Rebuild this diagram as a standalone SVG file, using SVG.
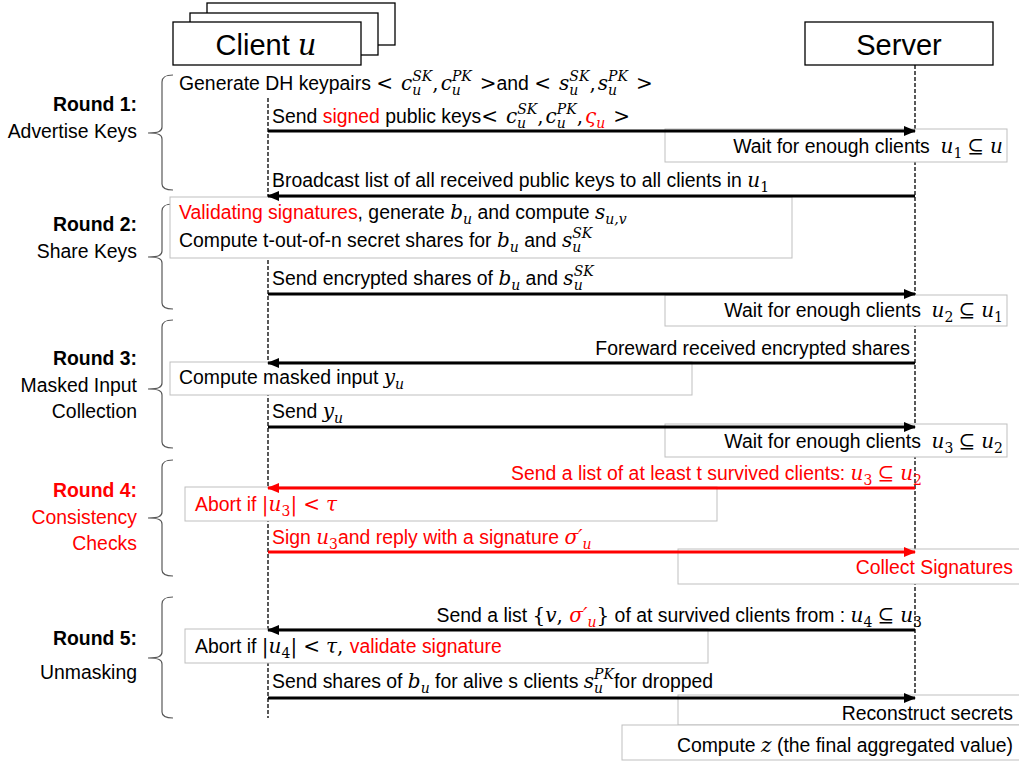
<svg xmlns="http://www.w3.org/2000/svg" width="1019" height="764" viewBox="0 0 1019 764">
<defs>
<style>
.t{font-family:"Liberation Sans",Arial,sans-serif;font-size:19.4px;fill:#000}
.r{fill:#ff0000}
.b{font-weight:bold}
.mi{font-family:"DejaVu Serif",serif;font-style:italic;font-size:20px}
.mr{font-family:"DejaVu Serif",serif;font-style:normal;font-size:20px}
.s{font-size:14px}
.note{fill:#fff;stroke:#bfbfbf;stroke-width:1}
.hdr{fill:#fff;stroke:#000;stroke-width:1.3}
.life{stroke:#000;stroke-width:1.3;stroke-dasharray:4 2;fill:none}
.brace{fill:none;stroke:#595959;stroke-width:1.2}
.arr{stroke:#000;stroke-width:3;fill:none;marker-end:url(#ah)}
.arr-r{stroke:#f00;stroke-width:3;fill:none;marker-end:url(#ahr)}
.big{font-size:29px}
</style>
<marker id="ah" markerUnits="userSpaceOnUse" markerWidth="12" markerHeight="10" refX="11" refY="5" orient="auto"><path d="M0,0 L12,5 L0,10 z" fill="#000"/></marker>
<marker id="ahr" markerUnits="userSpaceOnUse" markerWidth="12" markerHeight="10" refX="11" refY="5" orient="auto"><path d="M0,0 L12,5 L0,10 z" fill="#f00"/></marker>
</defs>
<rect width="1019" height="764" fill="#fff"/>

<g id="lifelines">
<path class="life" d="M268,98 V718"/>
<path class="life" d="M915,65 V700"/>
</g>

<g id="client">
<rect class="hdr" x="207" y="3" width="188" height="42"/>
<rect class="hdr" x="190" y="13" width="188" height="42"/>
<rect class="hdr" x="173" y="22" width="188" height="43"/>
<text class="t big" x="266" y="55" text-anchor="middle">Client <tspan class="mi" style="font-size:29px">u</tspan></text>
</g>

<g id="server">
<rect class="hdr" x="805" y="22" width="188" height="43"/>
<text class="t big" x="899" y="55" text-anchor="middle">Server</text>
</g>

<g id="braces">
<path class="brace" d="M173,75 C165,75 162,77 162,82 L162,127 C162,131 159,133 148,133 C159,133 162,135 162,139 L162,184 C162,188 165,190 173,190"/>
<path class="brace" d="M173,204 C165,204 162,206 162,211 L162,251 C162,255 159,257 148,257 C159,257 162,259 162,263 L162,303 C162,307 165,309 173,309"/>
<path class="brace" d="M173,320 C165,320 162,322 162,327 L162,383 C162,387 159,389 148,389 C159,389 162,391 162,395 L162,442 C162,446 165,448 173,448"/>
<path class="brace" d="M173,460 C165,460 162,462 162,467 L162,512 C162,516 159,518 148,518 C159,518 162,520 162,524 L162,570 C162,574 165,576 173,576"/>
<path class="brace" d="M173,597 C165,597 162,599 162,604 L162,652 C162,656 159,658 148,658 C159,658 162,660 162,664 L162,712 C162,716 165,718 173,718"/>
</g>

<g id="round1">
<text class="t b" x="137" y="111" text-anchor="end">Round 1:</text>
<text class="t" x="137" y="138" text-anchor="end">Advertise Keys</text>
</g>
<g id="round2">
<text class="t b" x="137" y="231" text-anchor="end">Round 2:</text>
<text class="t" x="137" y="258" text-anchor="end">Share Keys</text>
</g>
<g id="round3">
<text class="t b" x="137" y="365" text-anchor="end">Round 3:</text>
<text class="t" x="137" y="392" text-anchor="end">Masked Input</text>
<text class="t" x="137" y="418" text-anchor="end">Collection</text>
</g>
<g id="round4">
<text class="t b r" x="137" y="497" text-anchor="end">Round 4:</text>
<text class="t r" x="137" y="524" text-anchor="end">Consistency</text>
<text class="t r" x="137" y="550" text-anchor="end">Checks</text>
</g>
<g id="round5">
<text class="t b" x="137" y="645" text-anchor="end">Round 5:</text>
<text class="t" x="137" y="679" text-anchor="end">Unmasking</text>
</g>

<g id="gen-keys">
<text class="t" x="179" y="90">Generate DH keypairs <tspan class="mr">&lt;</tspan><tspan class="mi" dx="8">c</tspan><tspan class="mi s" dy="5">u</tspan><tspan class="mi s" dx="-9" dy="-14">SK</tspan><tspan class="mr" dy="9">,</tspan><tspan class="mi" dx="2">c</tspan><tspan class="mi s" dy="5">u</tspan><tspan class="mi s" dx="-9" dy="-14">PK</tspan><tspan class="mr" dx="8" dy="9">&gt;</tspan>and <tspan class="mr">&lt;</tspan><tspan class="mi" dx="8">s</tspan><tspan class="mi s" dy="5">u</tspan><tspan class="mi s" dx="-9" dy="-14">SK</tspan><tspan class="mr" dy="9">,</tspan><tspan class="mi" dx="2">s</tspan><tspan class="mi s" dy="5">u</tspan><tspan class="mi s" dx="-9" dy="-14">PK</tspan><tspan class="mr" dx="8" dy="9">&gt;</tspan></text>
</g>

<g id="note-validate">
<rect class="note" x="170" y="197" width="622" height="61"/>
<text class="t" x="179" y="219"><tspan class="r">Validating signatures</tspan>, generate <tspan class="mi">b</tspan><tspan class="mi s" dy="5">u</tspan><tspan dy="-5"> and compute </tspan><tspan class="mi">s</tspan><tspan class="mi s" dy="5">u,v</tspan></text>
<text class="t" x="179" y="247">Compute t-out-of-n secret shares for <tspan class="mi">b</tspan><tspan class="mi s" dy="5">u</tspan><tspan dy="-5"> and </tspan><tspan class="mi">s</tspan><tspan class="mi s" dy="5">u</tspan><tspan class="mi s" dx="-9" dy="-14">SK</tspan></text>
</g>

<g id="note-wait1">
<rect class="note" x="665" y="129" width="342" height="33"/>
<text class="t" x="1003" y="153" text-anchor="end">Wait for enough clients&#160; <tspan class="mi">u</tspan><tspan class="mr s" dy="5">1</tspan><tspan class="mr" dx="5" dy="-5">⊆</tspan><tspan class="mi" dx="6">u</tspan></text>
</g>

<g id="note-wait2">
<rect class="note" x="665" y="295" width="342" height="31"/>
<text class="t" x="1003" y="317" text-anchor="end">Wait for enough clients&#160; <tspan class="mi">u</tspan><tspan class="mr s" dy="5">2</tspan><tspan class="mr" dx="5" dy="-5">⊆</tspan><tspan class="mi" dx="6">u</tspan><tspan class="mr s" dy="5">1</tspan></text>
</g>

<g id="note-masked">
<rect class="note" x="170" y="362" width="522" height="33"/>
<text class="t" x="179" y="384">Compute masked input <tspan class="mi">y</tspan><tspan class="mi s" dy="5">u</tspan></text>
</g>

<g id="note-wait3">
<rect class="note" x="665" y="424" width="342" height="33"/>
<text class="t" x="1003" y="448" text-anchor="end">Wait for enough clients&#160; <tspan class="mi">u</tspan><tspan class="mr s" dy="5">3</tspan><tspan class="mr" dx="5" dy="-5">⊆</tspan><tspan class="mi" dx="6">u</tspan><tspan class="mr s" dy="5">2</tspan></text>
</g>

<g id="note-abort1">
<rect class="note" x="185" y="487" width="532" height="34"/>
<text class="t r" x="195" y="511">Abort if <tspan class="mr">|</tspan><tspan class="mi">u</tspan><tspan class="mr s" dy="5">3</tspan><tspan class="mr" dy="-5">|</tspan><tspan class="mr" dx="6">&lt;</tspan><tspan class="mi" dx="6">τ</tspan></text>
</g>

<g id="note-collect">
<rect class="note" x="678" y="549" width="345" height="35"/>
<text class="t r" x="1013" y="574" text-anchor="end">Collect Signatures</text>
</g>

<g id="note-abort2">
<rect class="note" x="185" y="629" width="523" height="34"/>
<text class="t" x="195" y="653">Abort if <tspan class="mr">|</tspan><tspan class="mi">u</tspan><tspan class="mr s" dy="5">4</tspan><tspan class="mr" dy="-5">|</tspan><tspan class="mr" dx="6">&lt;</tspan><tspan class="mi" dx="6">τ</tspan><tspan class="mr">, </tspan><tspan class="r">validate signature</tspan></text>
</g>

<g id="note-reconstruct">
<rect class="note" x="678" y="695" width="345" height="30"/>
<text class="t" x="1013" y="720" text-anchor="end">Reconstruct secrets</text>
</g>

<g id="note-compute-z">
<rect class="note" x="622" y="725" width="401" height="35"/>
<text class="t" x="1013" y="752" text-anchor="end">Compute <tspan class="mi">z</tspan> (the final aggregated value)</text>
</g>

<g id="connectors">
<path class="arr" d="M268,131 H915"/>
<path class="arr" d="M915,196 H268"/>
<path class="arr" d="M268,294 H915"/>
<path class="arr" d="M915,363 H268"/>
<path class="arr" d="M268,427 H915"/>
<path class="arr-r" d="M915,488 H268"/>
<path class="arr-r" d="M268,552 H915"/>
<path class="arr" d="M915,630 H268"/>
<path class="arr" d="M268,698 H915"/>

<text class="t" x="272" y="123">Send <tspan class="r">signed</tspan> public keys<tspan class="mr">&lt;</tspan><tspan class="mi" dx="8">c</tspan><tspan class="mi s" dy="5">u</tspan><tspan class="mi s" dx="-9" dy="-14">SK</tspan><tspan class="mr" dy="9">,</tspan><tspan class="mi" dx="2">c</tspan><tspan class="mi s" dy="5">u</tspan><tspan class="mi s" dx="-9" dy="-14">PK</tspan><tspan class="mr" dy="9">,</tspan><tspan class="mi r" dx="2">ς</tspan><tspan class="mi s r" dy="5">u</tspan><tspan class="mr" dx="8" dy="-5">&gt;</tspan></text>
<text class="t" x="272" y="187">Broadcast list of all received public keys to all clients in <tspan class="mi">u</tspan><tspan class="mr s" dy="5">1</tspan></text>
<text class="t" x="272" y="285">Send encrypted shares of <tspan class="mi">b</tspan><tspan class="mi s" dy="5">u</tspan><tspan dy="-5"> and </tspan><tspan class="mi">s</tspan><tspan class="mi s" dy="5">u</tspan><tspan class="mi s" dx="-9" dy="-14">SK</tspan></text>
<text class="t" x="910" y="355" text-anchor="end">Foreward received encrypted shares</text>
<text class="t" x="272" y="418">Send <tspan class="mi">y</tspan><tspan class="mi s" dy="5">u</tspan></text>
<text class="t r" x="922" y="480" text-anchor="end">Send a list of at least t survived clients: <tspan class="mi">u</tspan><tspan class="mr s" dy="5">3</tspan><tspan class="mr" dx="5" dy="-5">⊆</tspan><tspan class="mi" dx="6">u</tspan><tspan class="mr s" dy="5">2</tspan></text>
<text class="t r" x="272" y="544">Sign <tspan class="mi">u</tspan><tspan class="mr s" dy="5">3</tspan><tspan dy="-5">and reply with a signature </tspan><tspan class="mi">σ′</tspan><tspan class="mi s" dy="5">u</tspan></text>
<text class="t" x="922" y="622" text-anchor="end">Send a list <tspan class="mr">{</tspan><tspan class="mi">v</tspan><tspan class="mr">, </tspan><tspan class="mi r">σ′</tspan><tspan class="mi s r" dy="5">u</tspan><tspan class="mr" dy="-5">}</tspan> of at survived clients from : <tspan class="mi">u</tspan><tspan class="mr s" dy="5">4</tspan><tspan class="mr" dx="5" dy="-5">⊆</tspan><tspan class="mi" dx="6">u</tspan><tspan class="mr s" dy="5">3</tspan></text>
<text class="t" x="272" y="688">Send shares of <tspan class="mi">b</tspan><tspan class="mi s" dy="5">u</tspan><tspan dy="-5"> for alive s clients </tspan><tspan class="mi">s</tspan><tspan class="mi s" dy="5">u</tspan><tspan class="mi s" dx="-9" dy="-14">PK</tspan><tspan dy="9">for dropped</tspan></text>
</g>
</svg>
